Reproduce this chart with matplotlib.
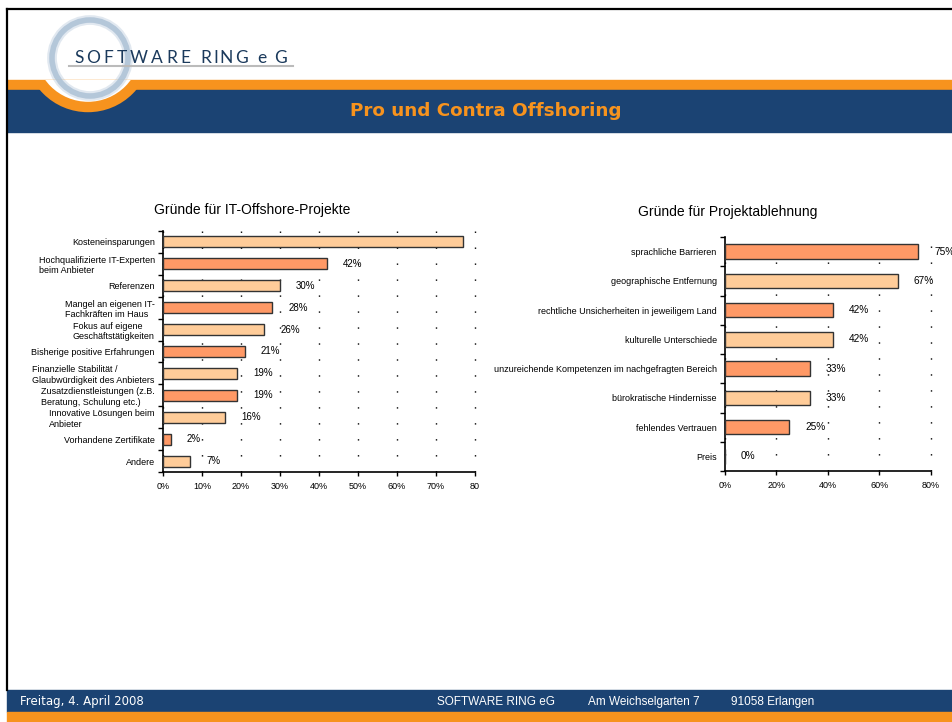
import matplotlib.pyplot as plt
from matplotlib.patches import Rectangle, Circle
import numpy as np

# data
pro_cats = ["Kosteneinsparungen", "Hochqualifizierte IT-Experten\nbeim Anbieter", "Referenzen",
            "Mangel an eigenen IT-\nFachkräften im Haus", "Fokus auf eigene\nGeschäftstätigkeiten",
            "Bisherige positive Erfahrungen", "Finanzielle Stabilität /\nGlaubwürdigkeit des Anbieters",
            "Zusatzdienstleistungen (z.B.\nBeratung, Schulung etc.)", "Innovative Lösungen beim\nAnbieter",
            "Vorhandene Zertifikate", "Andere"]
pro_vals = [77, 42, 30, 28, 26, 21, 19, 19, 16, 2, 7]
pro_ticks = [0, 10, 20, 30, 40, 50, 60, 70, 80]
pro_ticklabels = ["0%", "10%", "20%", "30%", "40%", "50%", "60%", "70%", "80"]

con_cats = ["sprachliche Barrieren", "geographische Entfernung", "rechtliche Unsicherheiten in jeweiligem Land",
            "kulturelle Unterschiede", "unzureichende Kompetenzen im nachgefragten Bereich",
            "bürokratische Hindernisse", "fehlendes Vertrauen", "Preis"]
con_vals = [75, 67, 42, 42, 33, 33, 25, 0]
con_ticks = [0, 20, 40, 60, 80]
con_ticklabels = ["0%", "20%", "40%", "60%", "80%"]

LIGHT = "#FFCC99"
SALMON = "#FF9966"
BLUE = "#1B4373"
ORANGE = "#F7931E"
FONT = "Liberation Sans"

W, H = 953, 722
fig = plt.figure(figsize=(W / 100, H / 100), dpi=100)
renderer = fig.canvas.get_renderer()

# slide background in pixel coords
bg = fig.add_axes([0, 0, 1, 1], zorder=0)
bg.set_xlim(0, W)
bg.set_ylim(H, 0)
bg.axis("off")

bg.add_patch(Rectangle((7, 80), W, 10, color=ORANGE))
bg.add_patch(Rectangle((7, 90), W, 42, color=BLUE))
arc = Circle((88, 49), 58, facecolor="white", edgecolor=ORANGE, lw=7.5)
bg.add_patch(arc)
arc.set_clip_path(Rectangle((7, 80), W, 52, transform=bg.transData))
for lw, a in [(7, 0.35), (4, 0.8)]:
    bg.add_patch(Circle((90, 58), 38, fill=False, edgecolor="#A9BFD4", lw=lw, alpha=a))

# logo lettering with wide tracking
bg.plot([69, 293], [65.5, 65.5], color="#BBBBBB", lw=1.5)
for word, x0, x1 in [("SOFTWARE", 74, 190), ("RING", 200, 248), ("eG", 257, 287)]:
    chars = [bg.text(0, 63, ch, fontsize=12.5, family="Lato", color="#1B3A5C", va="baseline", ha="left")
             for ch in word]
    widths = [t.get_window_extent(renderer).width for t in chars]
    gap = (x1 - x0 - sum(widths)) / max(len(word) - 1, 1)
    x = x0
    for t, w in zip(chars, widths):
        t.set_x(x)
        x += w + gap

bg.text(486, 111, "Pro und Contra Offshoring", fontsize=13.2, fontweight="bold", color=ORANGE,
        family="DejaVu Sans", ha="center", va="center")

# footer
bg.add_patch(Rectangle((7, 690), W, 22, color=BLUE))
bg.add_patch(Rectangle((7, 712), W, 10, color=ORANGE))
bg.text(20, 702, "Freitag, 4. April 2008", fontsize=8.5, color="white", family="DejaVu Sans", va="center")
bg.text(437, 702, "SOFTWARE RING eG", fontsize=8.5, color="white", family=FONT, va="center")
bg.text(588, 702, "Am Weichselgarten 7", fontsize=8.5, color="white", family=FONT, va="center")
bg.text(731, 702, "91058 Erlangen", fontsize=8.5, color="white", family=FONT, va="center")

# frame
bg.plot([7, W], [9, 9], color="black", lw=1.6)
bg.plot([7, 7], [9, 690], color="black", lw=1.6)

# chart titles
bg.text(252, 210, "Gründe für IT-Offshore-Projekte", fontsize=10, family=FONT, ha="center", va="center")
bg.text(728, 212, "Gründe für Projektablehnung", fontsize=10, family=FONT, ha="center", va="center")


def px_axes(x0, x1, y0, y1):
    return fig.add_axes([x0 / W, 1 - y1 / H, (x1 - x0) / W, (y1 - y0) / H], zorder=2)


def bar_chart(ax, cats, vals, ticks, ticklabels, first_color, xmax, clip, value_size):
    n = len(cats)
    y = np.arange(n)
    other = LIGHT if first_color == SALMON else SALMON
    colors = [first_color if i % 2 == 0 else other for i in range(n)]
    ax.barh(y, vals, height=0.5, color=colors, edgecolor="#333333", lw=1, zorder=3)
    ax.set_xlim(0, xmax)
    ax.set_ylim(n - 0.5, -0.5)
    ax.patch.set_alpha(0)
    for s in ["top", "right"]:
        ax.spines[s].set_visible(False)
    for s in ["left", "bottom"]:
        ax.spines[s].set_linewidth(1.2)
    ax.set_xticks(ticks)
    ax.set_xticklabels(ticklabels, fontsize=6.5, family=FONT)
    ax.tick_params(axis="x", length=3, width=1, pad=4)
    ax.set_yticks(np.arange(n + 1) - 0.5)
    ax.set_yticklabels([])
    ax.tick_params(axis="y", which="major", length=3.5, width=1)
    ax.set_yticks(y, minor=True)
    ax.set_yticklabels(cats, minor=True, fontsize=6.5, family=FONT, multialignment="left")
    ax.tick_params(axis="y", which="minor", length=0, pad=6)
    ax.grid(axis="x", color="black", lw=1, linestyle=(0, (1, 10.5)), zorder=0)
    for gl in ax.get_xgridlines():
        gl.set_clip_on(False)
    for v, yy in zip(vals, y):
        ax.annotate(f"{v}%", (v, yy), xytext=(11.5, 0), textcoords="offset points",
                    fontsize=value_size, family=FONT, va="center", ha="left", annotation_clip=False,
                    clip_on=clip)


ax1 = px_axes(163, 475, 231, 472)
bar_chart(ax1, pro_cats, pro_vals, pro_ticks, pro_ticklabels, LIGHT, 80, True, 7)

ax2 = px_axes(725, 931, 237, 471)
bar_chart(ax2, con_cats, con_vals, con_ticks, con_ticklabels, SALMON, 80, False, 7.3)

fig.savefig("out.png", dpi=100)
